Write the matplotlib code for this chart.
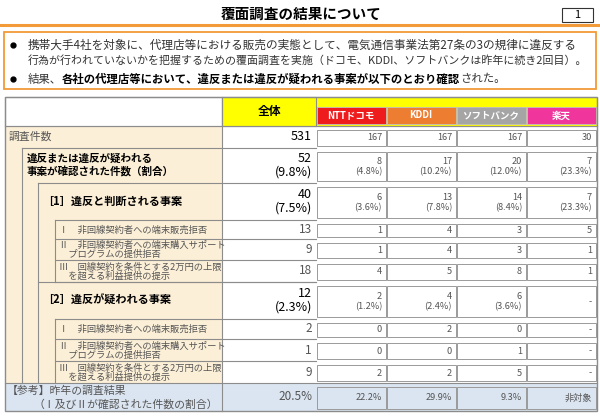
import matplotlib

matplotlib.use("Agg")
import matplotlib.pyplot as plt
from matplotlib.patches import Rectangle

plt.rcParams["font.family"] = ["Noto Sans CJK JP", "DejaVu Sans"]

# ---- data ----
companies = ["NTTドコモ", "KDDI", "ソフトバンク", "楽天"]
company_colors = ["#ee1c1c", "#ed7d31", "#a5a5a5", "#f0359c"]

surveyed_total = 531
surveyed = [167, 167, 167, 30]

viol_total, viol_total_pct = 52, 9.8
viol = [8, 17, 20, 7]
viol_pct = [4.8, 10.2, 12.0, 23.3]

conf_total, conf_total_pct = 40, 7.5
conf = [6, 13, 14, 7]
conf_pct = [3.6, 7.8, 8.4, 23.3]
conf_sub_total = [13, 9, 18]
conf_sub = [[1, 4, 3, 5], [1, 4, 3, 1], [4, 5, 8, 1]]

susp_total, susp_total_pct = 12, 2.3
susp = [2, 4, 6, None]
susp_pct = [1.2, 2.4, 3.6, None]
susp_sub_total = [2, 1, 9]
susp_sub = [[0, 2, 0, None], [0, 0, 1, None], [2, 2, 5, None]]

last_year_total = 20.5
last_year = [22.2, 29.9, 9.3, None]

sub_labels = ["Ⅰ　非回線契約者への端末販売拒否",
              "Ⅱ　非回線契約者への端末購入サポート\n　プログラムの提供拒否",
              "Ⅲ　回線契約を条件とする2万円の上限\n　を超える利益提供の提示"]

# ---- layout (pixels) ----
ORANGE = "#f29b38"
CREAM = "#fcefd7"
BLUE = "#dbe5f1"
GRID = "#8c8c8c"
TXT = "#555555"
row_y = [126, 148, 183, 220, 239, 260, 282, 319, 339, 361, 383, 411]
comp_x = [316, 386, 456, 526, 596]
TOP, LEFT, RIGHT = 97, 5, 597
TOT_L = 222

fig = plt.figure(figsize=(6, 4.16), dpi=100)
ax = fig.add_axes([0, 0, 1, 1])
ax.set_xlim(0, 600)
ax.set_ylim(416, 0)
ax.axis("off")
renderer = fig.canvas.get_renderer()


def rect(x0, y0, x1, y1, fc="none", ec=GRID, lw=0.8, z=1):
    ax.add_patch(Rectangle((x0, y0), x1 - x0, y1 - y0, facecolor=fc,
                           edgecolor=ec, lw=lw, zorder=z))


def hline(y, x0, x1, c=GRID, lw=0.8):
    ax.plot([x0, x1], [y, y], color=c, lw=lw, zorder=3)


def vline(x, y0, y1, c=GRID, lw=0.8):
    ax.plot([x, x], [y0, y1], color=c, lw=lw, zorder=3)


def x_end(t):
    bb = t.get_window_extent(renderer)
    return ax.transData.inverted().transform((bb.x1, bb.y0))[0]


def segments(x0, y, segs, fs, target=None):
    # draw a line made of (text, bold) pieces; shrink font so it ends at target
    if target is not None:
        probe = []
        x = x0
        for s, b in segs:
            t = ax.text(x, y, s, va="center", fontsize=fs, fontweight="bold" if b else "normal")
            x = x_end(t)
            probe.append(t)
        for t in probe:
            t.remove()
        fs = fs * (target - x0) / (x - x0)
    x = x0
    for s, b in segs:
        t = ax.text(x, y, s, va="center", fontsize=fs,
                    fontweight="bold" if b else "normal",
                    color="black" if b else "#333333")
        x = x_end(t)


# ---- title ----
ax.text(301, 14, "覆面調査の結果について", ha="center", va="center",
        fontsize=10.5, fontweight="bold", color="black")
rect(562, 8, 593, 22, fc="white", ec="#333333", lw=0.8)
ax.text(577.5, 15, "1", ha="center", va="center", fontsize=8)
hline(25, 0, 600, c=ORANGE, lw=2.2)

# ---- bullet box ----
rect(4, 32, 596, 89, fc="white", ec=ORANGE, lw=1.3)
ax.plot([13, 13], [45, 79], "o", ms=3.5, color="black", ls="none")
segments(28, 45, [("携帯大手4社を対象に、代理店等における販売の実態として、電気通信事業法第27条の3の規律に違反する", False)],
         8.3, target=576)
segments(28, 61, [("行為が行われていないかを把握するための覆面調査を実施（ドコモ、KDDI、ソフトバンクは昨年に続き2回目）。", False)],
         8.3, target=584)
segments(28, 79, [("結果、", False),
                  ("各社の代理店等において、違反または違反が疑われる事案が以下のとおり確認", True),
                  ("された。", False)], 8.2)

# ---- table backgrounds ----
rect(LEFT, TOP, TOT_L, row_y[0], fc="white")
rect(LEFT, row_y[0], TOT_L, row_y[-2], fc=CREAM, ec="none", z=0)
rect(TOT_L, TOP, RIGHT, row_y[0], fc="#ffff00", ec=GRID, z=1)
rect(TOT_L, TOP, comp_x[0], row_y[0], fc="#ffff00", ec=GRID, z=2)
ax.text((TOT_L + comp_x[0]) / 2, 111, "全体", ha="center", va="center",
        fontsize=8.5, fontweight="bold")
for i, name in enumerate(companies):
    rect(comp_x[i] + 0.5, 107, comp_x[i + 1] - 0.5, 124, fc=company_colors[i], ec="#bfbfbf", lw=0.6, z=2)
    ax.text((comp_x[i] + comp_x[i + 1]) / 2, 115.5, name, ha="center", va="center",
            fontsize=6.8, fontweight="bold", color="white", zorder=4)
rect(LEFT, row_y[-2], RIGHT, row_y[-1], fc=BLUE, ec="none", z=0)

# left nested structure
hline(row_y[0], LEFT, RIGHT)
hline(row_y[1], 22, comp_x[0])
vline(22, row_y[1], row_y[-2])
hline(row_y[2], 38, comp_x[0])
vline(38, row_y[2], row_y[-2])
for k in (3, 4, 5, 6):
    hline(row_y[k], 55, comp_x[0])
vline(55, row_y[3], row_y[6])
hline(row_y[6], 38, comp_x[0])
for k in (7, 8, 9):
    hline(row_y[k], 55, comp_x[0])
vline(55, row_y[7], row_y[10])
hline(row_y[10], LEFT, RIGHT)
vline(TOT_L, TOP, row_y[-1])
rect(LEFT, TOP, RIGHT, row_y[-1], lw=1.0, z=3)


def mid(k):
    return (row_y[k] + row_y[k + 1]) / 2


# left labels
ax.text(9, mid(0), "調査件数", va="center", fontsize=7.8, color=TXT)
ax.text(27, mid(1), "違反または違反が疑われる\n事案が確認された件数（割合）", va="center",
        fontsize=7.6, fontweight="bold", linespacing=1.3)
ax.text(42, mid(2), "［1］違反と判断される事案", va="center", fontsize=8, fontweight="bold")
ax.text(42, mid(6), "［2］違反が疑われる事案", va="center", fontsize=8, fontweight="bold")
for j, lab in enumerate(sub_labels):
    for k0 in (3, 7):
        ax.text(59, mid(k0 + j) + 0.5, lab, va="center", fontsize=6.7, color=TXT, linespacing=0.95)
ax.text(7, 391, "【参考】昨年の調査結果", va="center", fontsize=7.8, color=TXT)
ax.text(218, 404, "（Ⅰ及びⅡが確認された件数の割合）", va="center", ha="right", fontsize=7.8, color=TXT)


# total column
def tot(k, s, big=True):
    ax.text(comp_x[0] - 4, mid(k), s, ha="right", va="center", ma="right",
            fontsize=9 if big else 8.5, color="black" if big else TXT, linespacing=1.1, zorder=4)


tot(0, f"{surveyed_total}")
tot(1, f"{viol_total}\n({viol_total_pct}%)")
tot(2, f"{conf_total}\n({conf_total_pct}%)")
for j in range(3):
    tot(3 + j, f"{conf_sub_total[j]}", big=False)
tot(6, f"{susp_total}\n({susp_total_pct}%)")
for j in range(3):
    tot(7 + j, f"{susp_sub_total[j]}", big=False)
tot(10, f"{last_year_total}%", big=False)


# company cells
def cells(k, vals, pcts=None, fc="white", missing="-"):
    for i in range(4):
        y0, y1 = row_y[k] + 4, row_y[k + 1] - 2
        rect(comp_x[i] + 0.5, y0, comp_x[i + 1] - 0.5, y1, fc=fc, ec="#9a9a9a", lw=0.7, z=2)
        v = vals[i]
        if v is None:
            s = missing
        elif pcts is not None:
            s = f"{v}\n({pcts[i]:.1f}%)"
        else:
            s = f"{v}"
        ax.text(comp_x[i + 1] - 4, (y0 + y1) / 2, s, ha="right", va="center", ma="right",
                fontsize=6.6, color=TXT, linespacing=1.15, zorder=4)


cells(0, surveyed)
cells(1, viol, viol_pct)
cells(2, conf, conf_pct)
for j in range(3):
    cells(3 + j, conf_sub[j])
cells(6, susp, susp_pct)
for j in range(3):
    cells(7 + j, susp_sub[j])
cells(10, [f"{v}%" if v is not None else None for v in last_year], fc=BLUE, missing="非対象")

fig.savefig("out.png", dpi=100)
